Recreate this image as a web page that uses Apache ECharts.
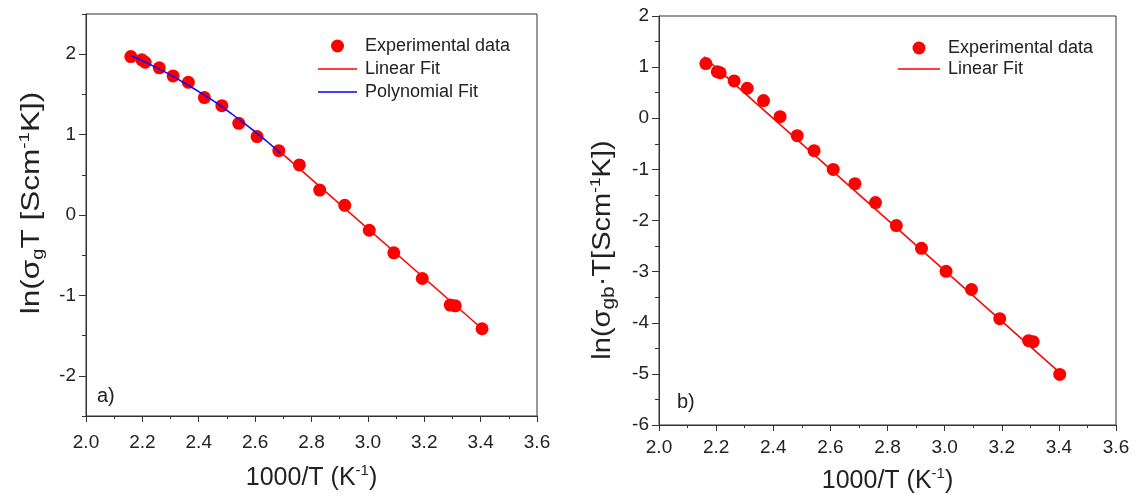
<!DOCTYPE html>
<html>
<head>
<meta charset="utf-8">
<script src="https://cdn.jsdelivr.net/npm/echarts@6/dist/echarts.min.js"></script>
<style>html,body{margin:0;padding:0;background:#fff;}#c{width:1136px;height:496px;}</style>
</head>
<body>
<div id="c"></div>
<script>
// ---- data ----
const leftX = [2.159, 2.198, 2.210, 2.260, 2.309, 2.363, 2.420, 2.482, 2.542, 2.607, 2.684, 2.757, 2.829, 2.918, 3.005, 3.092, 3.193, 3.292, 3.310, 3.405];
const leftY = [1.97, 1.93, 1.90, 1.83, 1.73, 1.65, 1.46, 1.36, 1.14, 0.975, 0.80, 0.623, 0.31, 0.12, -0.19, -0.47, -0.79, -1.12, -1.13, -1.415];
const leftLinX = [2.684, 3.410];
const leftLinY = [0.80, -1.43];
const polyX = [2.16, 2.22, 2.28, 2.34, 2.40, 2.46, 2.52, 2.58, 2.64, 2.69];
const polyY = [1.98, 1.885, 1.78, 1.66, 1.535, 1.40, 1.25, 1.09, 0.92, 0.77];

const rightX = [2.164, 2.204, 2.214, 2.263, 2.309, 2.366, 2.424, 2.484, 2.543, 2.610, 2.686, 2.758, 2.831, 2.919, 3.005, 3.094, 3.193, 3.294, 3.310, 3.403];
const rightY = [1.07, 0.91, 0.89, 0.73, 0.587, 0.345, 0.03, -0.34, -0.634, -1.0, -1.28, -1.65, -2.10, -2.545, -2.995, -3.35, -3.92, -4.35, -4.37, -5.01];
const rightLinX = [2.157, 3.406];
const rightLinY = [1.20, -4.99];

const leftYTicks = [-2, -1, 0, 1, 2];
const legendLeft = ['Experimental data', 'Linear Fit', 'Polynomial Fit'];
const legendRight = ['Experimental data', 'Linear Fit'];

// ---- helpers ----
const pair = (xs, ys) => xs.map((x, i) => [x, ys[i]]);
const FONT = 'Liberation Sans, Arial, sans-serif';
const AX = '#333';
const TXT = '#222';
const LINE_ICON = 'path://M0,0H40V1.5H0Z';

function xAxisCfg(gridIndex, labelMargin, nameGap) {
  return {
    gridIndex, type: 'value', min: 2.0, max: 3.6, interval: 0.2,
    axisLine: { show: true, onZero: false, lineStyle: { color: AX, width: 1 } },
    axisTick: { show: true, inside: false, length: 6, lineStyle: { color: AX } },
    minorTick: { show: true, splitNumber: 2, length: 3, lineStyle: { color: AX } },
    splitLine: { show: false }, minorSplitLine: { show: false },
    axisLabel: { fontSize: 19, fontFamily: FONT, color: TXT, margin: labelMargin, formatter: v => v.toFixed(1) },
    name: '1000/T (K{sup|-1})', nameLocation: 'middle', nameGap: nameGap,
    nameTextStyle: { fontSize: 25, fontFamily: FONT, color: TXT, lineHeight: 30,
      rich: { sup: { fontSize: 15, fontFamily: FONT, color: TXT, lineHeight: 14, verticalAlign: 'top' } } }
  };
}

const chart = echarts.init(document.getElementById('c'), null, { renderer: 'canvas' });
const option = {
  animation: false,
  backgroundColor: '#fff',
  grid: [
    { left: 86, top: 14, width: 451, height: 402, outerBoundsMode: 'none', containLabel: false,
      show: true, borderColor: AX, borderWidth: 1, backgroundColor: 'transparent' },
    { left: 659, top: 16, width: 457, height: 409, outerBoundsMode: 'none', containLabel: false,
      show: true, borderColor: AX, borderWidth: 1, backgroundColor: 'transparent' }
  ],
  xAxis: [xAxisCfg(0, 17, 47), xAxisCfg(1, 13, 41)],
  yAxis: [
    { gridIndex: 0, type: 'value', position: 'left', min: -2.5, max: 2.5,
      axisLine: { show: true, onZero: false, lineStyle: { color: AX, width: 1 } },
      axisTick: { show: true, inside: false, length: 7, customValues: leftYTicks, lineStyle: { color: AX } },
      axisLabel: { customValues: leftYTicks, fontSize: 19, fontFamily: FONT, color: TXT, margin: 10 },
      splitLine: { show: false } },
    { gridIndex: 0, type: 'value', position: 'left', offset: 0, min: -2.5, max: 2.5, interval: 0.5,
      axisLine: { show: false, onZero: false },
      axisTick: { show: true, inside: false, length: 4, lineStyle: { color: AX } },
      axisLabel: { show: false }, splitLine: { show: false } },
    { gridIndex: 1, type: 'value', position: 'left', min: -6, max: 2, interval: 1,
      axisLine: { show: true, onZero: false, lineStyle: { color: AX, width: 1 } },
      axisTick: { show: true, inside: false, length: 7, lineStyle: { color: AX } },
      minorTick: { show: true, splitNumber: 2, length: 4, lineStyle: { color: AX } },
      axisLabel: { fontSize: 19, fontFamily: FONT, color: TXT, margin: 10 },
      splitLine: { show: false }, minorSplitLine: { show: false } }
  ],
  legend: [
    { left: 318, top: 37, padding: 0, orient: 'vertical', itemWidth: 39, itemHeight: 13, itemGap: 5,
      symbolKeepAspect: true,
      textStyle: { fontSize: 18, fontFamily: FONT, color: TXT, lineHeight: 18, padding: [0, 0, 0, 3] },
      data: [{ name: legendLeft[0], icon: 'circle' },
             { name: legendLeft[1], icon: LINE_ICON },
             { name: legendLeft[2], icon: LINE_ICON }] },
    { left: 898, top: 39, padding: 0, orient: 'vertical', itemWidth: 42, itemHeight: 13, itemGap: 3,
      symbolKeepAspect: true,
      textStyle: { fontSize: 18, fontFamily: FONT, color: TXT, lineHeight: 18, padding: [0, 0, 0, 3] },
      data: [{ name: legendRight[0], icon: 'circle' },
             { name: legendRight[1], icon: LINE_ICON }] }
  ],
  series: [
    { name: legendLeft[1], type: 'line', xAxisIndex: 0, yAxisIndex: 0, data: pair(leftLinX, leftLinY),
      symbol: 'none', lineStyle: { color: '#ff0000', width: 1.5 }, itemStyle: { color: '#ff0000' }, z: 3 },
    { name: legendLeft[2], type: 'line', xAxisIndex: 0, yAxisIndex: 0, data: pair(polyX, polyY), smooth: true,
      symbol: 'none', lineStyle: { color: '#0000ff', width: 1.5 }, itemStyle: { color: '#0000ff' }, z: 4 },
    { name: legendLeft[0], type: 'scatter', xAxisIndex: 0, yAxisIndex: 0, data: pair(leftX, leftY),
      symbol: 'circle', symbolSize: 13, itemStyle: { color: '#ff0000', opacity: 1 }, z: 2 },
    { name: legendRight[1], type: 'line', xAxisIndex: 1, yAxisIndex: 2, data: pair(rightLinX, rightLinY),
      symbol: 'none', lineStyle: { color: '#ff0000', width: 1.5 }, itemStyle: { color: '#ff0000' }, z: 3 },
    { name: legendRight[0], type: 'scatter', xAxisIndex: 1, yAxisIndex: 2, data: pair(rightX, rightY),
      symbol: 'circle', symbolSize: 13, itemStyle: { color: '#ff0000', opacity: 1 }, z: 2 }
  ],
  graphic: [
    { type: 'text', x: 32, y: 203, rotation: Math.PI / 2, scaleX: 1.26, scaleY: 1,
      style: { text: 'ln(σ{sub|g}T [Scm{sup|-1}K])', fill: TXT, font: '25px ' + FONT,
        align: 'center', verticalAlign: 'middle', textAlign: 'center', textVerticalAlign: 'middle', lineHeight: 30,
        rich: { sub: { fontSize: 16, fontFamily: FONT, fill: TXT, lineHeight: 16, verticalAlign: 'bottom' },
                sup: { fontSize: 15, fontFamily: FONT, fill: TXT, lineHeight: 14, verticalAlign: 'top' } } } },
    { type: 'text', x: 603, y: 250, rotation: Math.PI / 2, scaleX: 1.16, scaleY: 1,
      style: { text: 'ln(σ{sub|gb}·T[Scm{sup|-1}K])', fill: TXT, font: '25px ' + FONT,
        align: 'center', verticalAlign: 'middle', textAlign: 'center', textVerticalAlign: 'middle', lineHeight: 30,
        rich: { sub: { fontSize: 18, fontFamily: FONT, fill: TXT, lineHeight: 16, verticalAlign: 'bottom' },
                sup: { fontSize: 15, fontFamily: FONT, fill: TXT, lineHeight: 14, verticalAlign: 'top' } } } },
    { type: 'text', x: 97, y: 396, style: { text: 'a)', fill: TXT, font: '20px ' + FONT, verticalAlign: 'middle', textVerticalAlign: 'middle' } },
    { type: 'text', x: 677, y: 402, style: { text: 'b)', fill: TXT, font: '20px ' + FONT, verticalAlign: 'middle', textVerticalAlign: 'middle' } }
  ]
};
chart.setOption(option);
</script>
</body>
</html>
